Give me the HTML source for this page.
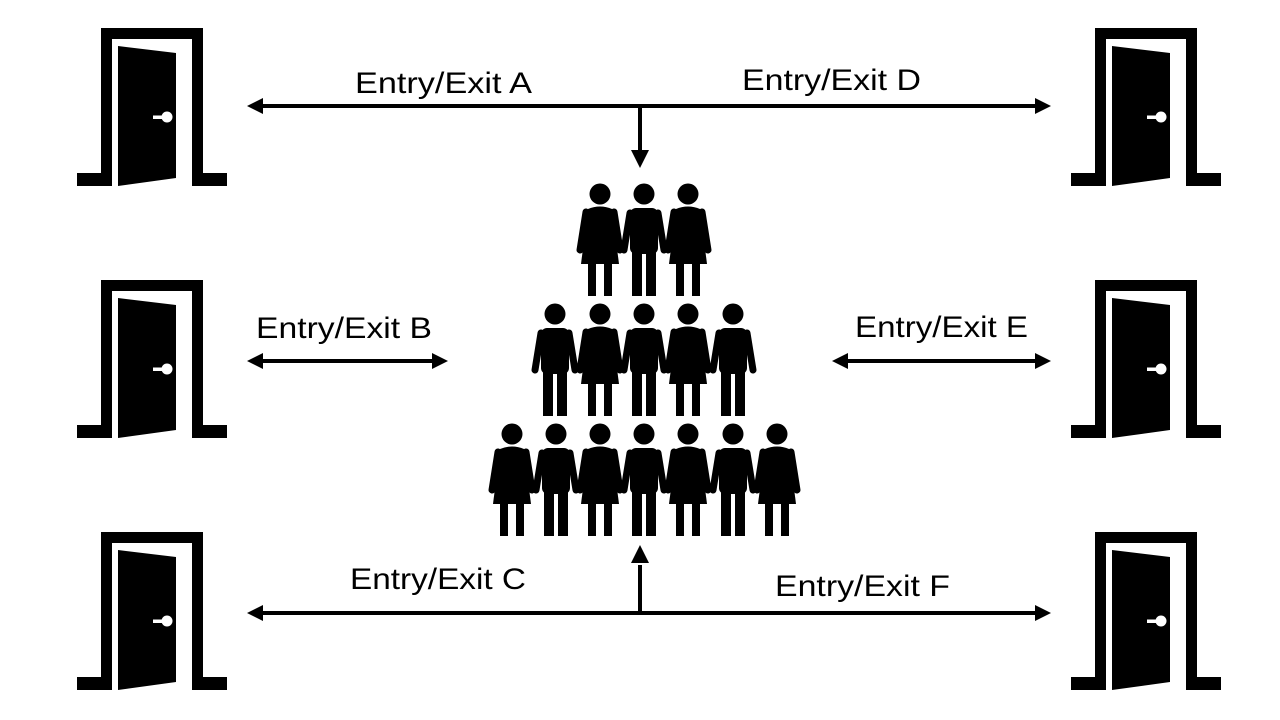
<!DOCTYPE html>
<html><head><meta charset="utf-8"><style>
html,body{margin:0;padding:0;background:#fff}
svg{display:block}
text{font-family:"Liberation Sans",sans-serif;font-size:30px;fill:#000}
</style></head><body>
<svg width="1280" height="720" viewBox="0 0 1280 720">
<defs>
<g id="door">
<path d="M77,186 V173 H101 V28 H203 V173 H227 V186 H192 V39 H112 V186 Z" fill="#000"/>
<polygon points="118,46 176,53 176,178 118,186" fill="#000"/>
<circle cx="167" cy="117" r="5.5" fill="#fff"/>
<rect x="153" y="115.5" width="12" height="3.5" fill="#fff"/>
</g>
<g id="w">
<circle cx="0" cy="0" r="10.5"/>
<path d="M-12,15 Q0,10 12,15 L19,70 L-19,70 Z"/>
<line x1="-14" y1="18" x2="-20" y2="56" stroke="#000" stroke-width="7" stroke-linecap="round"/>
<line x1="14" y1="18" x2="20" y2="56" stroke="#000" stroke-width="7" stroke-linecap="round"/>
<rect x="-12" y="68" width="8" height="34"/>
<rect x="4" y="68" width="8" height="34"/>
</g>
<g id="m">
<circle cx="0" cy="0" r="10.5"/>
<rect x="-14" y="14" width="28" height="46" rx="6"/>
<line x1="-14" y1="19" x2="-20" y2="56" stroke="#000" stroke-width="7" stroke-linecap="round"/>
<line x1="14" y1="19" x2="20" y2="56" stroke="#000" stroke-width="7" stroke-linecap="round"/>
<rect x="-12" y="56" width="10" height="46"/>
<rect x="2" y="56" width="10" height="46"/>
</g>
</defs>
<use href="#door"/>
<use href="#door" y="252"/>
<use href="#door" y="504"/>
<use href="#door" x="994"/>
<use href="#door" x="994" y="252"/>
<use href="#door" x="994" y="504"/>

<g fill="#000">
<use href="#w" x="600" y="194"/><use href="#m" x="644" y="194"/><use href="#w" x="688" y="194"/>
<use href="#m" x="555" y="314"/><use href="#w" x="600" y="314"/><use href="#m" x="644" y="314"/><use href="#w" x="688" y="314"/><use href="#m" x="733" y="314"/>
<use href="#w" x="512" y="434"/><use href="#m" x="556" y="434"/><use href="#w" x="600" y="434"/><use href="#m" x="644" y="434"/><use href="#w" x="688" y="434"/><use href="#m" x="733" y="434"/><use href="#w" x="777" y="434"/>
</g>

<g stroke="#000" stroke-width="4" fill="none">
<line x1="260" y1="106" x2="1038" y2="106"/>
<line x1="640" y1="106" x2="640" y2="152"/>
<line x1="260" y1="361" x2="435" y2="361"/>
<line x1="845" y1="361" x2="1038" y2="361"/>
<line x1="260" y1="613" x2="1038" y2="613"/>
<line x1="640" y1="613" x2="640" y2="565"/>
</g>
<g fill="#000">
<polygon points="247,106 263,98 263,114"/>
<polygon points="1051,106 1035,98 1035,114"/>
<polygon points="640,168 631,150 649,150"/>
<polygon points="247,361 263,353 263,369"/>
<polygon points="448,361 432,353 432,369"/>
<polygon points="832,361 848,353 848,369"/>
<polygon points="1051,361 1035,353 1035,369"/>
<polygon points="247,613 263,605 263,621"/>
<polygon points="1051,613 1035,605 1035,621"/>
<polygon points="640,545 631,563 649,563"/>
</g>

<text x="355" y="93" textLength="177" lengthAdjust="spacingAndGlyphs">Entry/Exit A</text>
<text x="742" y="90" textLength="179" lengthAdjust="spacingAndGlyphs">Entry/Exit D</text>
<text x="256" y="338" textLength="176" lengthAdjust="spacingAndGlyphs">Entry/Exit B</text>
<text x="855" y="337" textLength="173" lengthAdjust="spacingAndGlyphs">Entry/Exit E</text>
<text x="350" y="589" textLength="176" lengthAdjust="spacingAndGlyphs">Entry/Exit C</text>
<text x="775" y="596" textLength="175" lengthAdjust="spacingAndGlyphs">Entry/Exit F</text>
</svg>
</body></html>
